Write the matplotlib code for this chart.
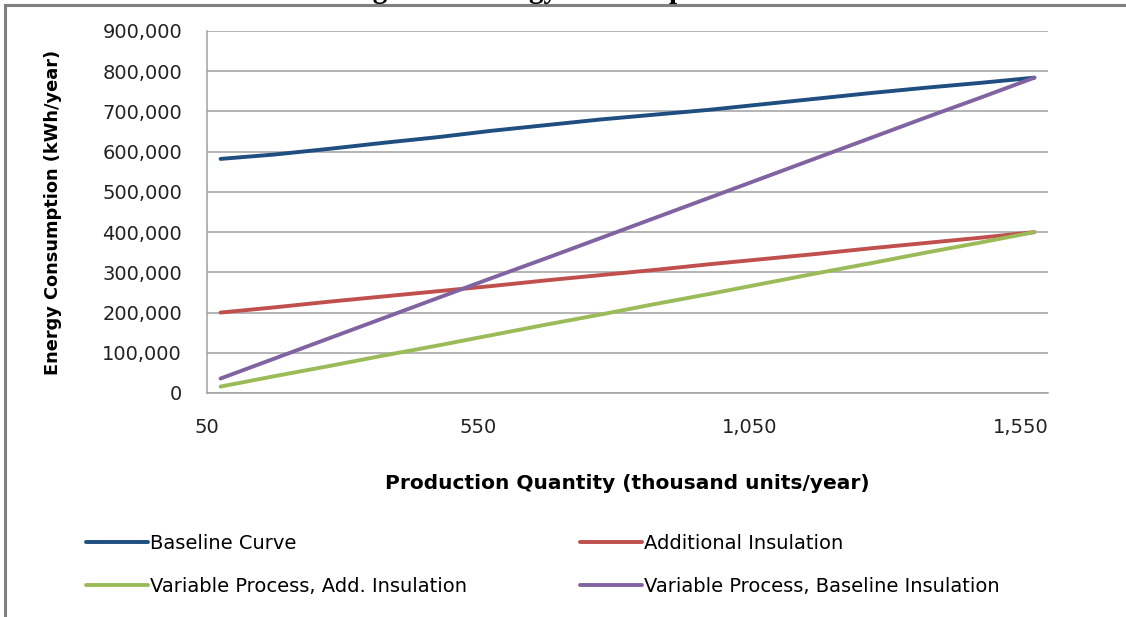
import matplotlib
matplotlib.use("Agg")
import matplotlib.pyplot as plt
from matplotlib.lines import Line2D
from matplotlib.ticker import FuncFormatter, FixedLocator

# Production quantity (thousand units/year)
quantity = [75, 175, 275, 375, 475, 575, 675, 775, 875, 975, 1075, 1175, 1275, 1375, 1475, 1575]

# Energy consumption (kWh/year) for each scenario
baseline_curve = [582000, 593000, 607000, 622000, 636000, 652000, 666000, 680000,
                  692000, 704000, 718000, 732000, 746000, 759000, 771000, 784000]
additional_insulation = [200000, 213000, 227000, 240000, 253000, 266000, 280000, 293000,
                         306000, 320000, 333000, 346000, 360000, 373000, 386000, 400000]
var_process_add_ins = [16000, 42000, 67000, 93000, 118000, 144000, 170000, 195000,
                       221000, 246000, 272000, 298000, 323000, 349000, 374000, 400000]
var_process_base_ins = [36000, 86000, 136000, 186000, 236000, 286000, 335000, 385000,
                        435000, 485000, 535000, 585000, 635000, 685000, 734000, 784000]

series_labels = ["Baseline Curve", "Additional Insulation",
                 "Variable Process, Add. Insulation", "Variable Process, Baseline Insulation"]
series_colors = ["#1F4E80", "#C0504D", "#9BBB59", "#8064A2"]

x_ticks = [50, 550, 1050, 1550]
y_ticks = [0, 100000, 200000, 300000, 400000, 500000, 600000, 700000, 800000, 900000]

W, H = 1126, 617
fig = plt.figure(figsize=(W / 100, H / 100), dpi=100)
fig.patch.set_facecolor("white")

ax = fig.add_axes([207 / W, 1 - 393 / H, (1048 - 207) / W, (393 - 31) / H])

series = [baseline_curve, additional_insulation, var_process_add_ins, var_process_base_ins]
for values, label, color in zip(series, series_labels, series_colors):
    ax.plot(quantity, values, color=color, lw=2.8, label=label,
            solid_capstyle="round", solid_joinstyle="round", zorder=3)

ax.set_xlim(50, 1600)
ax.set_ylim(0, 900000)
ax.xaxis.set_major_locator(FixedLocator(x_ticks))
ax.yaxis.set_major_locator(FixedLocator(y_ticks))
ax.xaxis.set_major_formatter(FuncFormatter(lambda v, p: f"{int(v):,}"))
ax.yaxis.set_major_formatter(FuncFormatter(lambda v, p: f"{int(v):,}"))

ax.grid(axis="y", color="#A0A0A0", lw=1.1, zorder=1)
ax.set_axisbelow(True)
for side in ["top", "right"]:
    ax.spines[side].set_visible(False)
for side in ["left", "bottom"]:
    ax.spines[side].set_color("#A0A0A0")
    ax.spines[side].set_linewidth(1.1)

ax.tick_params(axis="both", length=0, labelsize=14, colors="#222222")
ax.tick_params(axis="y", pad=18)
ax.tick_params(axis="x", pad=18)

ax.set_ylabel("Energy Consumption (kWh/year)", fontsize=12.8, fontweight="bold",
              color="black")
ax.yaxis.set_label_coords((62 - 207) / (1048 - 207), 0.5)
ax.set_xlabel("Production Quantity (thousand units/year)", fontsize=14.5,
              fontweight="bold", color="black")
ax.xaxis.set_label_coords(0.5, -(474 - 393) / (393 - 31))

# Legend in two independent columns
handles, labels = ax.get_legend_handles_labels()
for idx, x0 in [((0, 2), 80), ((1, 3), 574)]:
    fig.legend([handles[i] for i in idx], [labels[i] for i in idx],
               loc="upper left", bbox_to_anchor=(x0 / W, 1 - 528 / H),
               frameon=False, fontsize=14, handlelength=3.2, handletextpad=0.1,
               labelspacing=1.25, borderaxespad=0, borderpad=0.3)

# Page frame around the figure
frame_kw = dict(transform=fig.transFigure, color="#808080", lw=2.2)
fig.add_artist(Line2D([5 / W, 1.0], [1 - 4.5 / H, 1 - 4.5 / H], **frame_kw))
fig.add_artist(Line2D([5 / W, 5 / W], [0.0, 1 - 4.5 / H], **frame_kw))

# Caption sitting above the frame
fig.text(347 / W, 1 + 2 / H, "Figure 8: Energy Consumption vs. Production",
         family="Liberation Serif", fontweight="bold", fontsize=21,
         ha="left", va="baseline")

fig.savefig("out.png", dpi=100, facecolor="white")
